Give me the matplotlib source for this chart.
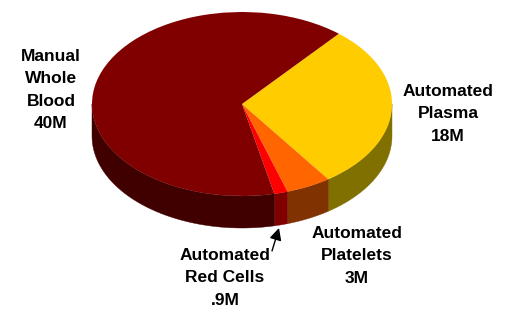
import numpy as np
import matplotlib
matplotlib.use('Agg')
import matplotlib.pyplot as plt

# blood collection volumes (millions of units)
labels = ['Automated\nPlasma\n18M', 'Automated\nPlatelets\n3M',
          'Automated\nRed Cells\n.9M', 'Manual\nWhole\nBlood\n40M']
values = [18, 3, 0.9, 40]
top_colors = ['#FFCC00', '#FF6600', '#FF0000', '#800000']
side_colors = ['#807000', '#803300', '#800000', '#400000']

W, H = 513, 309
cx, cy, rx, ry = 242, 104, 150, 92   # pixel geometry of the top face
depth = 32 / ry
start = 49.8

fig = plt.figure(figsize=(W / 100, H / 100), dpi=100)
ax = fig.add_axes([0, 0, 1, 1])


def px(x, y):
    # pixel position -> data coords (circle of radius 1, squashed by limits)
    return (x - cx) / rx, (cy - y) / ry


# side walls first (front half only)
frac = np.array(values) / sum(values) * 360
ends = start - np.cumsum(frac)
begins = ends + frac
for a1, a2, c in zip(begins, ends, side_colors):
    for shift in (0, -360):
        lo, hi = max(a2, -180 + shift), min(a1, 0 + shift)
        if hi <= lo:
            continue
        t = np.radians(np.linspace(lo, hi, 100))
        xs = np.concatenate([np.cos(t), np.cos(t[::-1])])
        ys = np.concatenate([np.sin(t), np.sin(t[::-1]) - depth])
        ax.fill(xs, ys, color=c, lw=0.3, ec=c)

wedges, _ = ax.pie(values, colors=top_colors, startangle=start,
                   counterclock=False, radius=1,
                   wedgeprops=dict(lw=0.3, ec='none'))

ax.set_aspect('auto')
x0, y0 = px(0, H)
x1, y1 = px(W, 0)
ax.set_xlim(x0, x1)
ax.set_ylim(y0, y1)
ax.axis('off')

font = dict(family=['Liberation Sans', 'DejaVu Sans'], weight='bold',
            fontsize=12.5, ha='center', va='center', linespacing=1.62)
ax.text(*px(51, 90), labels[3], **font)
ax.text(*px(448, 114), labels[0], **font)
ax.text(*px(357, 256), labels[1], **font)
ax.text(*px(225, 278), labels[2], **font)
ax.annotate('', xy=px(279, 228), xytext=px(272, 251),
            arrowprops=dict(arrowstyle='-|>', color='black', lw=1,
                            mutation_scale=18, shrinkA=0, shrinkB=0))

fig.savefig('out.png', dpi=100)
